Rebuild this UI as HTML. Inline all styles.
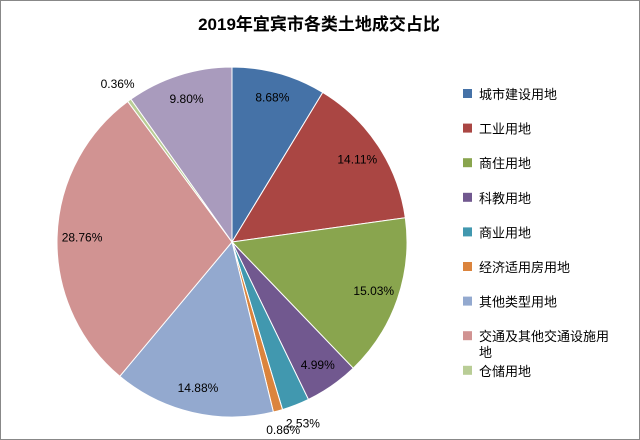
<!DOCTYPE html>
<html><head><meta charset="utf-8"><style>
body{margin:0;background:#fff}
#c{position:relative;width:638px;height:438px;border:1px solid #888;background:#fff;overflow:hidden;font-family:"Liberation Sans","Noto Sans CJK SC",sans-serif}
</style></head><body>
<div id="c">
<svg id="s" width="638" height="438">
<text x="318" y="29" text-anchor="middle" font-size="17" font-weight="bold" font-family="Liberation Sans,Noto Sans CJK SC,sans-serif">2019年宜宾市各类土地成交占比</text>
</svg>
</div>
<script>
const categories=["城市建设用地","工业用地","商住用地","科教用地","商业用地","经济适用房用地","其他类型用地","交通及其他交通设施用地","仓储用地",""];
const values=[8.68,14.11,15.03,4.99,2.53,0.86,14.88,28.76,0.36,9.80];
const labels=["8.68%","14.11%","15.03%","4.99%","2.53%","0.86%","14.88%","28.76%","0.36%","9.80%"];
const colors=["#4572A7","#AA4643","#89A54E","#71588F","#4198AF","#DB843D","#93A9CF","#D19392","#B9CD96","#A99BBD"];
const NS="http://www.w3.org/2000/svg";
const s=document.getElementById('s');
const cx=231,cy=241,r=175;
const total=values.reduce((a,b)=>a+b,0);
function pt(frac,rad){const a=frac*2*Math.PI;return [cx+rad*Math.sin(a),cy-rad*Math.cos(a)];}
let cum=0;
values.forEach((v,i)=>{
  const f0=cum/total,f1=(cum+v)/total;cum+=v;
  const p0=pt(f0,r),p1=pt(f1,r);
  const large=(f1-f0)>0.5?1:0;
  const p=document.createElementNS(NS,'path');
  p.setAttribute('d',`M${cx},${cy}L${p0[0]},${p0[1]}A${r},${r} 0 ${large} 1 ${p1[0]},${p1[1]}Z`);
  p.setAttribute('fill',colors[i]);p.setAttribute('stroke','#fff');p.setAttribute('stroke-width','1');
  
  
  s.appendChild(p);
});
cum=0;
values.forEach((v,i)=>{
  const fm=(cum+v/2)/total;cum+=v;
  const pct=v/total*100;
  const lp=pt(fm,pct<3?195:150);
  const t=document.createElementNS(NS,'text');
  t.setAttribute('x',lp[0]);t.setAttribute('y',lp[1]+4);
  t.setAttribute('text-anchor','middle');t.setAttribute('font-size','12');
  t.textContent=labels[i];
  
  
  s.appendChild(t);
});
categories.forEach((c,i)=>{
  if(!c)return;
  const y=93+i*34.6;
  const g=document.createElementNS(NS,'g');
  
  
  const rc=document.createElementNS(NS,'rect');
  rc.setAttribute('x',462);rc.setAttribute('y',y-5);rc.setAttribute('width',9);rc.setAttribute('height',9);rc.setAttribute('fill',colors[i]);
  g.appendChild(rc);
  const t=document.createElementNS(NS,'text');
  t.setAttribute('x',478);t.setAttribute('y',y+5);t.setAttribute('font-size','13');
  t.textContent=c.length>10?c.slice(0,10):c;
  g.appendChild(t);
  if(c.length>10){const t2=document.createElementNS(NS,'text');t2.setAttribute('x',478);t2.setAttribute('y',y+21);t2.setAttribute('font-size','13');t2.textContent=c.slice(10);g.appendChild(t2);}
  s.appendChild(g);
});
</script>
</body></html>
